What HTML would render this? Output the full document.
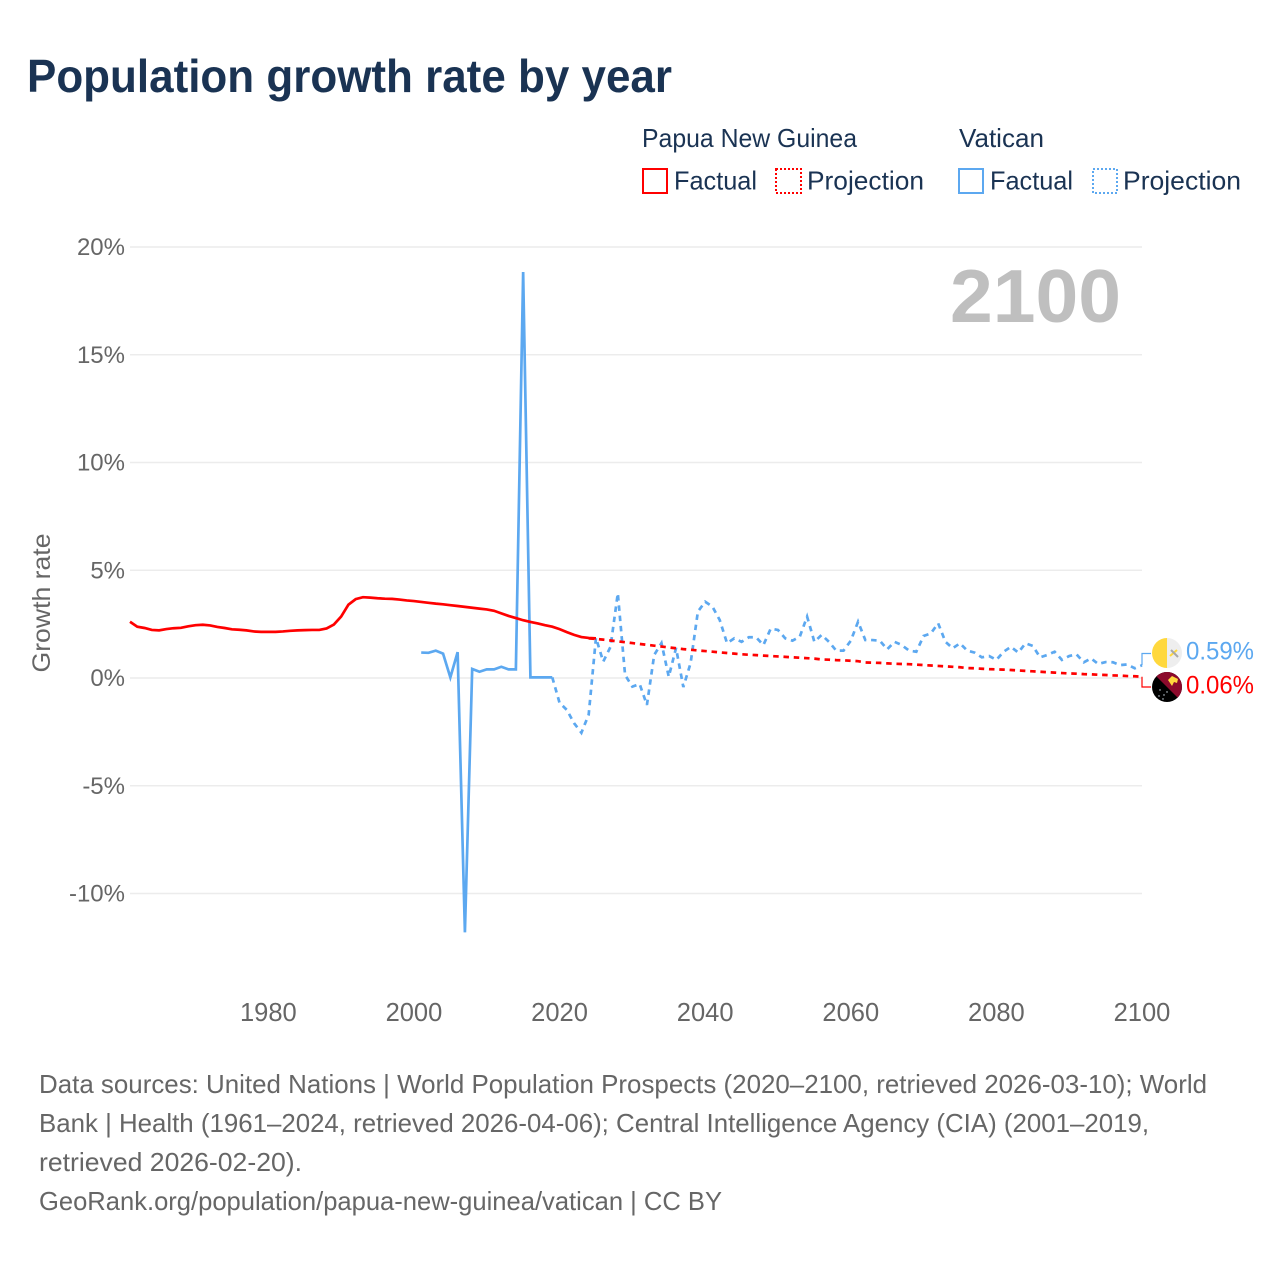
<!DOCTYPE html>
<html lang="en">
<head>
<meta charset="utf-8">
<title>Population growth rate by year</title>
<style>
html,body{margin:0;padding:0;background:#fff;}
svg{display:block;}
text{font-family:"Liberation Sans",sans-serif;}
</style>
</head>
<body>
<svg id="chart" xmlns="http://www.w3.org/2000/svg" width="1280" height="1280" viewBox="0 0 1280 1280">
  <rect width="1280" height="1280" fill="#fff"/>
  <text x="27" y="92" font-size="46" font-weight="700" fill="#1a3353" textLength="645" lengthAdjust="spacingAndGlyphs">Population growth rate by year</text>

  <g>
    <text x="642" y="147" font-size="26" fill="#1a3353" textLength="215" lengthAdjust="spacingAndGlyphs">Papua New Guinea</text>
    <rect x="643" y="169" width="24" height="24" fill="none" stroke="#ff0000" stroke-width="2"/>
    <text x="674" y="189.500" font-size="26" fill="#1a3353" textLength="83" lengthAdjust="spacingAndGlyphs">Factual</text>
    <rect x="776" y="169" width="25" height="24" fill="none" stroke="#ff0000" stroke-width="2" stroke-dasharray="2 2"/>
    <text x="807" y="189.500" font-size="26" fill="#1a3353" textLength="117" lengthAdjust="spacingAndGlyphs">Projection</text>
    <text x="959" y="147" font-size="26" fill="#1a3353" textLength="85" lengthAdjust="spacingAndGlyphs">Vatican</text>
    <rect x="959" y="169" width="24" height="24" fill="none" stroke="#5ca8f0" stroke-width="2"/>
    <text x="990" y="189.500" font-size="26" fill="#1a3353" textLength="83" lengthAdjust="spacingAndGlyphs">Factual</text>
    <rect x="1093" y="169" width="24" height="24" fill="none" stroke="#5ca8f0" stroke-width="2" stroke-dasharray="2 2"/>
    <text x="1123" y="189.500" font-size="26" fill="#1a3353" textLength="118" lengthAdjust="spacingAndGlyphs">Projection</text>
  </g>

  <g id="grid"></g>
  <g id="y-ticks"></g>
  <g id="x-ticks"></g>
  <text transform="translate(50 603) rotate(-90)" text-anchor="middle" font-size="25" fill="#666" textLength="139" lengthAdjust="spacingAndGlyphs">Growth rate</text>
  <text x="950" y="322" font-size="75" font-weight="700" fill="#bfbfbf" textLength="171" lengthAdjust="spacingAndGlyphs">2100</text>

  <g id="series"></g>

  <g>
    <clipPath id="clip-va"><circle cx="1167" cy="653" r="15"/></clipPath>
    <g clip-path="url(#clip-va)">
      <rect x="1152" y="638" width="15" height="30" fill="#ffd83d"/>
      <rect x="1167" y="638" width="15" height="30" fill="#eeeeee"/>
      <path d="M1170 656 L1177 650" stroke="#ffd83d" stroke-width="2"/>
      <path d="M1171 650 L1178 657" stroke="#a8a8a8" stroke-width="2"/>
    </g>
  </g>
  <g>
    <clipPath id="clip-pg"><circle cx="1167" cy="687" r="15"/></clipPath>
    <g clip-path="url(#clip-pg)">
      <rect x="1152" y="672" width="30" height="30" fill="#000"/>
      <path d="M1152 672 H1182 V702 Z" fill="#8c0a2c"/>
      <path d="M1168 680 L1172 676 L1178 679 L1177 683 L1174 682 L1172 686 Z" fill="#ffd83d"/>
      <circle cx="1160" cy="690" r="0.7" fill="#d8e4f0"/>
      <circle cx="1164" cy="695" r="0.7" fill="#d8e4f0"/>
      <circle cx="1159" cy="696" r="0.7" fill="#d8e4f0"/>
      <circle cx="1163" cy="699" r="0.7" fill="#d8e4f0"/>
      <circle cx="1167" cy="692" r="0.7" fill="#d8e4f0"/>
    </g>
  </g>
  <text id="label-va" x="1186" y="659.500" font-size="25" fill="#5ca8f0" textLength="68" lengthAdjust="spacingAndGlyphs"></text>
  <text id="label-pg" x="1186" y="693.500" font-size="25" fill="#ff0000" textLength="68" lengthAdjust="spacingAndGlyphs"></text>

  <g>
    <text x="39" y="1093" font-size="26" fill="#666" textLength="1168" lengthAdjust="spacingAndGlyphs">Data sources: United Nations | World Population Prospects (2020–2100, retrieved 2026-03-10); World</text>
    <text x="39" y="1132" font-size="26" fill="#666" textLength="1110" lengthAdjust="spacingAndGlyphs">Bank | Health (1961–2024, retrieved 2026-04-06); Central Intelligence Agency (CIA) (2001–2019,</text>
    <text x="39" y="1171" font-size="26" fill="#666" textLength="263" lengthAdjust="spacingAndGlyphs">retrieved 2026-02-20).</text>
    <text x="39" y="1210" font-size="26" fill="#666" textLength="683" lengthAdjust="spacingAndGlyphs">GeoRank.org/population/papua-new-guinea/vatican | CC BY</text>
  </g>
</svg>
<script>
const yTickValues = [20, 15, 10, 5, 0, -5, -10];
const xTickYears = [1980, 2000, 2020, 2040, 2060, 2080, 2100];

const pngFactualStart = 1961;
const pngFactual = [2.61,2.38,2.32,2.23,2.21,2.27,2.31,2.33,2.40,2.45,2.47,2.44,2.37,2.32,2.26,2.24,2.21,2.16,2.14,2.14,2.14,2.16,2.19,2.21,2.22,2.23,2.23,2.30,2.48,2.85,3.40,3.66,3.75,3.73,3.70,3.68,3.67,3.64,3.60,3.57,3.53,3.49,3.45,3.42,3.38,3.34,3.30,3.26,3.22,3.18,3.12,3.00,2.88,2.78,2.68,2.60,2.53,2.45,2.38,2.27,2.13,2.00,1.90,1.86,1.84];

const pngProjectionStart = 2024;
const pngProjection = [1.84,1.81,1.78,1.74,1.70,1.66,1.62,1.58,1.54,1.50,1.46,1.42,1.38,1.34,1.31,1.28,1.25,1.22,1.19,1.16,1.13,1.10,1.08,1.06,1.04,1.02,1.00,0.98,0.96,0.94,0.92,0.90,0.86,0.85,0.83,0.82,0.80,0.78,0.72,0.71,0.70,0.68,0.66,0.65,0.64,0.62,0.60,0.58,0.56,0.54,0.52,0.50,0.46,0.45,0.43,0.41,0.40,0.39,0.37,0.35,0.33,0.31,0.29,0.27,0.25,0.23,0.21,0.20,0.18,0.17,0.15,0.14,0.12,0.11,0.09,0.08,0.06];

const vaticanFactualStart = 2001;
const vaticanFactual = [1.18,1.17,1.27,1.13,0.03,1.20,-11.8,0.42,0.29,0.40,0.40,0.52,0.40,0.40,18.84,0.03,0.03,0.03,0.03];

const vaticanProjectionStart = 2019;
const vaticanProjection = [0.03,-1.15,-1.48,-2.10,-2.54,-1.70,1.86,0.76,1.45,3.93,0.14,-0.40,-0.28,-1.25,1.07,1.62,0.06,1.39,-0.42,0.69,3.08,3.54,3.31,2.69,1.62,1.84,1.68,1.89,1.89,1.53,2.29,2.23,1.84,1.73,1.92,2.85,1.68,2.00,1.68,1.27,1.27,1.73,2.61,1.76,1.76,1.73,1.33,1.68,1.53,1.27,1.22,1.95,2.07,2.54,1.68,1.38,1.61,1.27,1.18,0.96,1.02,0.84,1.22,1.45,1.18,1.61,1.49,0.96,1.07,1.22,0.84,1.02,1.10,0.73,0.91,0.65,0.74,0.73,0.60,0.63,0.45,0.59];

const SVG_NS = 'http://www.w3.org/2000/svg';
const COLOR_PNG = '#ff0000';
const COLOR_VATICAN = '#5ca8f0';
const xAxis = function (year) { return 130 + (year - 1961) * (1142 - 130) / (2100 - 1961); };
const yAxis = function (value) { return 678 - value * 21.55; };

function linePath(startYear, values) {
  return values.map(function (v, i) {
    return (i ? 'L' : 'M') + xAxis(startYear + i).toFixed(2) + ' ' + yAxis(v).toFixed(2);
  }).join(' ');
}

const gridGroup = document.getElementById('grid');
const yTickGroup = document.getElementById('y-ticks');
yTickValues.forEach(function (v) {
  const line = document.createElementNS(SVG_NS, 'line');
  
  
  line.setAttribute('x1', xAxis(1961));
  line.setAttribute('x2', xAxis(2100));
  line.setAttribute('y1', yAxis(v));
  line.setAttribute('y2', yAxis(v));
  line.setAttribute('stroke', '#ececec');
  line.setAttribute('stroke-width', '1.5');
  gridGroup.appendChild(line);
  const label = document.createElementNS(SVG_NS, 'text');
  
  
  label.setAttribute('x', 125);
  label.setAttribute('y', yAxis(v) + 8);
  label.setAttribute('text-anchor', 'end');
  label.setAttribute('font-size', '24');
  label.setAttribute('fill', '#666');
  label.textContent = v + '%';
  yTickGroup.appendChild(label);
});

const xTickGroup = document.getElementById('x-ticks');
xTickYears.forEach(function (year) {
  const label = document.createElementNS(SVG_NS, 'text');
  
  
  label.setAttribute('x', xAxis(year));
  label.setAttribute('y', 1021);
  label.setAttribute('text-anchor', 'middle');
  label.setAttribute('font-size', '25.5');
  label.setAttribute('fill', '#666');
  label.textContent = String(year);
  xTickGroup.appendChild(label);
});

const seriesGroup = document.getElementById('series');

const vaticanProjectionLine = document.createElementNS(SVG_NS, 'path');


vaticanProjectionLine.setAttribute('d', linePath(vaticanProjectionStart, vaticanProjection));
vaticanProjectionLine.setAttribute('fill', 'none');
vaticanProjectionLine.setAttribute('stroke', COLOR_VATICAN);
vaticanProjectionLine.setAttribute('stroke-width', '2.7');
vaticanProjectionLine.setAttribute('stroke-dasharray', '5.5 4.8');
seriesGroup.appendChild(vaticanProjectionLine);

const vaticanFactualLine = document.createElementNS(SVG_NS, 'path');


vaticanFactualLine.setAttribute('d', linePath(vaticanFactualStart, vaticanFactual));
vaticanFactualLine.setAttribute('fill', 'none');
vaticanFactualLine.setAttribute('stroke', COLOR_VATICAN);
vaticanFactualLine.setAttribute('stroke-width', '2.7');
seriesGroup.appendChild(vaticanFactualLine);

const pngProjectionLine = document.createElementNS(SVG_NS, 'path');


pngProjectionLine.setAttribute('d', linePath(pngProjectionStart, pngProjection));
pngProjectionLine.setAttribute('fill', 'none');
pngProjectionLine.setAttribute('stroke', COLOR_PNG);
pngProjectionLine.setAttribute('stroke-width', '2.7');
pngProjectionLine.setAttribute('stroke-dasharray', '5.5 4.8');
seriesGroup.appendChild(pngProjectionLine);

const pngFactualLine = document.createElementNS(SVG_NS, 'path');


pngFactualLine.setAttribute('d', linePath(pngFactualStart, pngFactual));
pngFactualLine.setAttribute('fill', 'none');
pngFactualLine.setAttribute('stroke', COLOR_PNG);
pngFactualLine.setAttribute('stroke-width', '2.7');
seriesGroup.appendChild(pngFactualLine);

const lastVatican = vaticanProjection[vaticanProjection.length - 1];
const lastPng = pngProjection[pngProjection.length - 1];

const vaticanConnector = document.createElementNS(SVG_NS, 'path');


vaticanConnector.setAttribute('d', 'M1142 ' + yAxis(lastVatican).toFixed(1) + ' V653.5 H1151');
vaticanConnector.setAttribute('fill', 'none');
vaticanConnector.setAttribute('stroke', COLOR_VATICAN);
vaticanConnector.setAttribute('stroke-width', '1.2');
seriesGroup.appendChild(vaticanConnector);

const pngConnector = document.createElementNS(SVG_NS, 'path');


pngConnector.setAttribute('d', 'M1142 ' + yAxis(lastPng).toFixed(1) + ' V687 H1151');
pngConnector.setAttribute('fill', 'none');
pngConnector.setAttribute('stroke', COLOR_PNG);
pngConnector.setAttribute('stroke-width', '1.2');
seriesGroup.appendChild(pngConnector);

document.getElementById('label-va').textContent = lastVatican.toFixed(2) + '%';
document.getElementById('label-pg').textContent = lastPng.toFixed(2) + '%';
</script>
</body>
</html>
